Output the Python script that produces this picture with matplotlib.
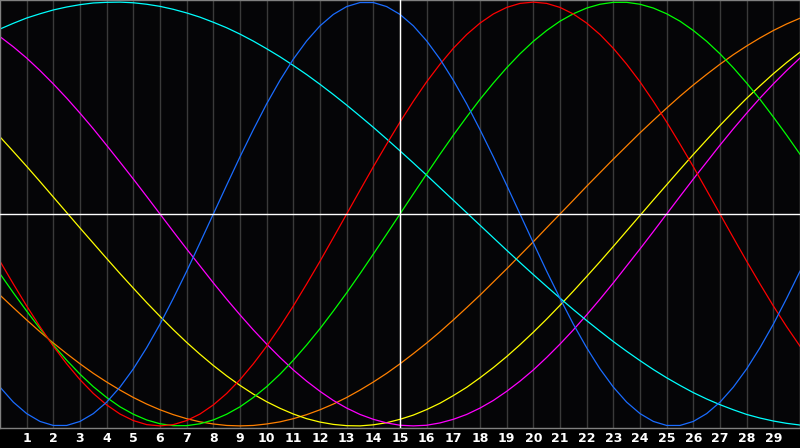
import matplotlib
matplotlib.use("Agg")
import matplotlib.pyplot as plt

# half-day steps from day 0 to day 30
days = [i / 2 for i in range(61)]
day_labels = [str(d) for d in range(1, 30)]

# values (-1 .. 1), one every half day
blue = [-0.817, -0.888, -0.942, -0.979, -0.998, -0.998, -0.979, -0.942, -0.888, -0.817,
        -0.731, -0.631, -0.520, -0.398, -0.270, -0.136, 0.000, 0.136, 0.270, 0.398,
        0.520, 0.631, 0.731, 0.817, 0.888, 0.942, 0.979, 0.998, 0.998, 0.979,
        0.942, 0.888, 0.817, 0.731, 0.631, 0.520, 0.398, 0.270, 0.136, 0.000,
        -0.136, -0.270, -0.398, -0.520, -0.631, -0.731, -0.817, -0.888, -0.942, -0.979,
        -0.998, -0.998, -0.979, -0.942, -0.888, -0.817, -0.731, -0.631, -0.520, -0.398,
        -0.270]
red = [-0.223, -0.330, -0.434, -0.532, -0.624, -0.707, -0.782, -0.847, -0.901, -0.944,
       -0.975, -0.994, -1.000, -0.994, -0.975, -0.944, -0.901, -0.847, -0.782, -0.707,
       -0.624, -0.532, -0.434, -0.330, -0.223, -0.112, 0.000, 0.112, 0.223, 0.330,
       0.434, 0.532, 0.624, 0.707, 0.782, 0.847, 0.901, 0.944, 0.975, 0.994,
       1.000, 0.994, 0.975, 0.944, 0.901, 0.847, 0.782, 0.707, 0.624, 0.532,
       0.434, 0.330, 0.223, 0.112, 0.000, -0.112, -0.223, -0.330, -0.434, -0.532,
       -0.624]
green = [-0.282, -0.372, -0.458, -0.541, -0.618, -0.690, -0.756, -0.815, -0.866, -0.910,
         -0.945, -0.972, -0.990, -0.999, -0.999, -0.990, -0.972, -0.945, -0.910, -0.866,
         -0.815, -0.756, -0.690, -0.618, -0.541, -0.458, -0.372, -0.282, -0.189, -0.095,
         0.000, 0.095, 0.189, 0.282, 0.372, 0.458, 0.541, 0.618, 0.690, 0.756,
         0.815, 0.866, 0.910, 0.945, 0.972, 0.990, 0.999, 0.999, 0.990, 0.972,
         0.945, 0.910, 0.866, 0.815, 0.756, 0.690, 0.618, 0.541, 0.458, 0.372,
         0.282]
cyan = [0.873, 0.900, 0.925, 0.945, 0.963, 0.977, 0.988, 0.996, 0.999, 1.000,
        0.997, 0.990, 0.980, 0.966, 0.949, 0.929, 0.905, 0.879, 0.849, 0.816,
        0.780, 0.742, 0.701, 0.658, 0.612, 0.564, 0.514, 0.462, 0.409, 0.354,
        0.298, 0.241, 0.183, 0.124, 0.065, 0.006, -0.053, -0.112, -0.171, -0.229,
        -0.286, -0.342, -0.397, -0.451, -0.503, -0.553, -0.602, -0.648, -0.692, -0.734,
        -0.773, -0.809, -0.843, -0.873, -0.900, -0.924, -0.946, -0.963, -0.977, -0.988,
        -0.996]
magenta = [0.837, 0.789, 0.736, 0.677, 0.614, 0.547, 0.476, 0.402, 0.324, 0.245,
           0.165, 0.083, 0.000, -0.083, -0.165, -0.245, -0.325, -0.402, -0.476, -0.547,
           -0.614, -0.677, -0.736, -0.789, -0.837, -0.880, -0.916, -0.946, -0.969, -0.986,
           -0.997, -1.000, -0.997, -0.986, -0.969, -0.946, -0.916, -0.880, -0.837, -0.789,
           -0.736, -0.677, -0.614, -0.547, -0.476, -0.402, -0.325, -0.245, -0.165, -0.083,
           0.000, 0.083, 0.165, 0.245, 0.325, 0.402, 0.476, 0.547, 0.614, 0.677,
           0.736]
yellow = [0.364, 0.295, 0.225, 0.153, 0.080, 0.007, -0.066, -0.138, -0.210, -0.281,
          -0.350, -0.418, -0.483, -0.546, -0.606, -0.662, -0.715, -0.764, -0.809, -0.850,
          -0.886, -0.917, -0.944, -0.966, -0.982, -0.993, -0.999, -1.000, -0.995, -0.985,
          -0.969, -0.949, -0.923, -0.893, -0.857, -0.818, -0.773, -0.725, -0.673, -0.617,
          -0.558, -0.496, -0.431, -0.364, -0.295, -0.225, -0.153, -0.080, -0.007, 0.066,
          0.138, 0.210, 0.281, 0.350, 0.418, 0.483, 0.546, 0.605, 0.662, 0.715,
          0.764]
orange = [-0.383, -0.442, -0.500, -0.556, -0.609, -0.659, -0.707, -0.752, -0.793, -0.831,
          -0.866, -0.897, -0.924, -0.947, -0.966, -0.981, -0.991, -0.998, -1.000, -0.998,
          -0.991, -0.981, -0.966, -0.947, -0.924, -0.897, -0.866, -0.831, -0.793, -0.752,
          -0.707, -0.659, -0.609, -0.556, -0.500, -0.442, -0.383, -0.321, -0.259, -0.195,
          -0.131, -0.065, 0.000, 0.065, 0.131, 0.195, 0.259, 0.321, 0.383, 0.442,
          0.500, 0.556, 0.609, 0.659, 0.707, 0.752, 0.793, 0.831, 0.866, 0.897,
          0.924]

series = [
    (orange, "#ff8000"),
    (yellow, "#ffff00"),
    (magenta, "#ff00ff"),
    (cyan, "#00ffff"),
    (green, "#00ff00"),
    (red, "#ff0000"),
    (blue, "#1a6cff"),
]

fig = plt.figure(figsize=(8.0, 4.48), dpi=100)
fig.patch.set_facecolor("black")
ax = fig.add_axes([0, 20 / 448, 1, 428 / 448])
ax.set_facecolor("#050507")

# day grid
for d in range(1, 30):
    ax.axvline(d, color="#3a3a3a", lw=1.0, zorder=1)
ax.axvline(15, color="white", lw=1.0, zorder=3)
ax.axhline(0, color="white", lw=1.0, zorder=3)

for vals, col in series:
    ax.plot(days, vals, color=col, lw=0.9, zorder=2)

ax.set_xlim(0, 30)
ax.set_ylim(-1.01, 1.01)
ax.set_yticks([])
ax.set_xticks(range(1, 30))
ax.set_xticklabels(day_labels, color="white", fontsize=9, fontweight="bold")
ax.tick_params(axis="x", length=0, pad=3)
for s in ax.spines.values():
    s.set_color("#808080")
    s.set_linewidth(1.0)

fig.savefig("out.png", dpi=100, facecolor="black")
